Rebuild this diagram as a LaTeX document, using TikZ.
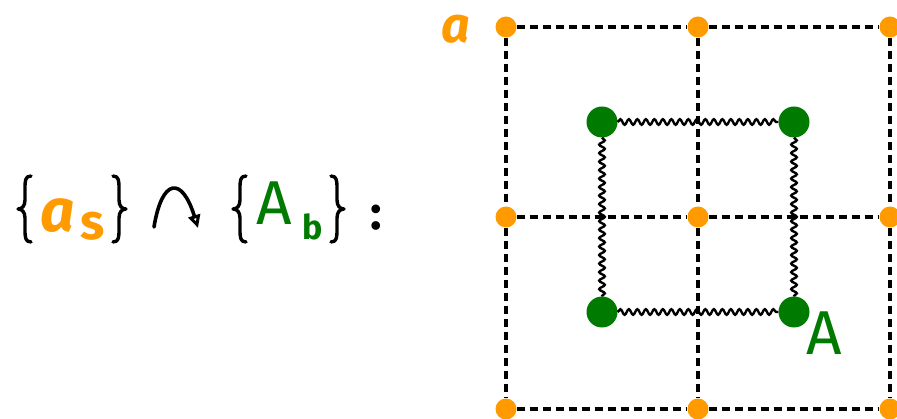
\documentclass[tikz,border=0pt]{standalone}
\usepackage{fontspec}
\setmainfont{Fira Sans}
\usetikzlibrary{decorations.pathmorphing,arrows.meta}
\definecolor{orng}{HTML}{FF9A00}
\definecolor{grn}{HTML}{007A00}
\begin{document}
\begin{tikzpicture}[x=1pt,y=-1pt,
  odot/.style={circle,fill=orng,minimum size=21pt,inner sep=0pt},
  gdot/.style={circle,fill=grn,minimum size=31pt,inner sep=0pt},
  gridline/.style={line width=3.4pt,dash pattern=on 8pt off 5pt},
  wavy/.style={line width=2.4pt,decorate,decoration={snake,segment length=8.5pt,amplitude=2.8pt}},
  txt/.style={inner sep=0pt,anchor=base west},
  curly/.pic={\draw[line width=3.4pt,line cap=round,line join=round]
     (6,-33) .. controls (0,-33) and (0,-28) .. (0,-20) -- (0,-9)
     .. controls (0,-3) and (-3,0) .. (-7,0)
     .. controls (-3,0) and (0,3) .. (0,9) -- (0,20)
     .. controls (0,28) and (0,33) .. (6,33);},
]
\useasboundingbox (0,0) rectangle (897,419);
% orange lattice
\foreach \i/\x in {1/506,2/698,3/890}{
  \foreach \j/\y in {1/27,2/217,3/409}{
    \node[odot] (o\i\j) at (\x,\y) {};
  }
}
\foreach \j in {1,2,3}{
  \draw[gridline] (o1\j) -- (o2\j);
  \draw[gridline] (o2\j) -- (o3\j);
  \draw[gridline] (o\j1) -- (o\j2);
  \draw[gridline] (o\j2) -- (o\j3);
}
% green plaquette
\node[gdot] (g1) at (602,122) {};
\node[gdot] (g2) at (794,122) {};
\node[gdot] (g3) at (794,312) {};
\node[gdot] (g4) at (602,312) {};
\draw[wavy] (g1) -- (g2);
\draw[wavy] (g2) -- (g3);
\draw[wavy] (g4) -- (g3);
\draw[wavy] (g1) -- (g4);
% labels
\node[txt,text=orng,font=\fontsize{50}{50}\selectfont\bfseries\itshape] (la) at (441,43) {a};
\node[txt,text=grn,font=\fontsize{62}{62}\selectfont] (lA) at (806,355) {A};
% formula
\pic at (25,209) {curly};
\node[txt,text=orng,font=\fontsize{60}{60}\selectfont\bfseries\itshape] (fa) at (40,232) {a};
\node[txt,text=orng,font=\fontsize{50}{50}\selectfont\bfseries] (fs) at (80,240) {s};
\pic[xscale=-1] at (119,209) {curly};
\coordinate (arS) at (154,227);
\coordinate (arE) at (198,228);
\draw[line width=3.6pt,line cap=round,-{Triangle[open,length=13pt,width=12pt,line width=3pt]}] (arS) .. controls (162,178) and (182,176) .. (arE);
\pic at (240,209) {curly};
\node[txt,text=grn,font=\fontsize{62}{62}\selectfont] (fA) at (256,225) {A};
\node[txt,text=grn,font=\fontsize{34}{34}\selectfont\bfseries] (fb) at (302,240) {b};
\pic[xscale=-1] at (337,209) {curly};
\node[txt,font=\fontsize{48}{48}\selectfont\bfseries] (col) at (370,230) {:};
\end{tikzpicture}
\end{document}
